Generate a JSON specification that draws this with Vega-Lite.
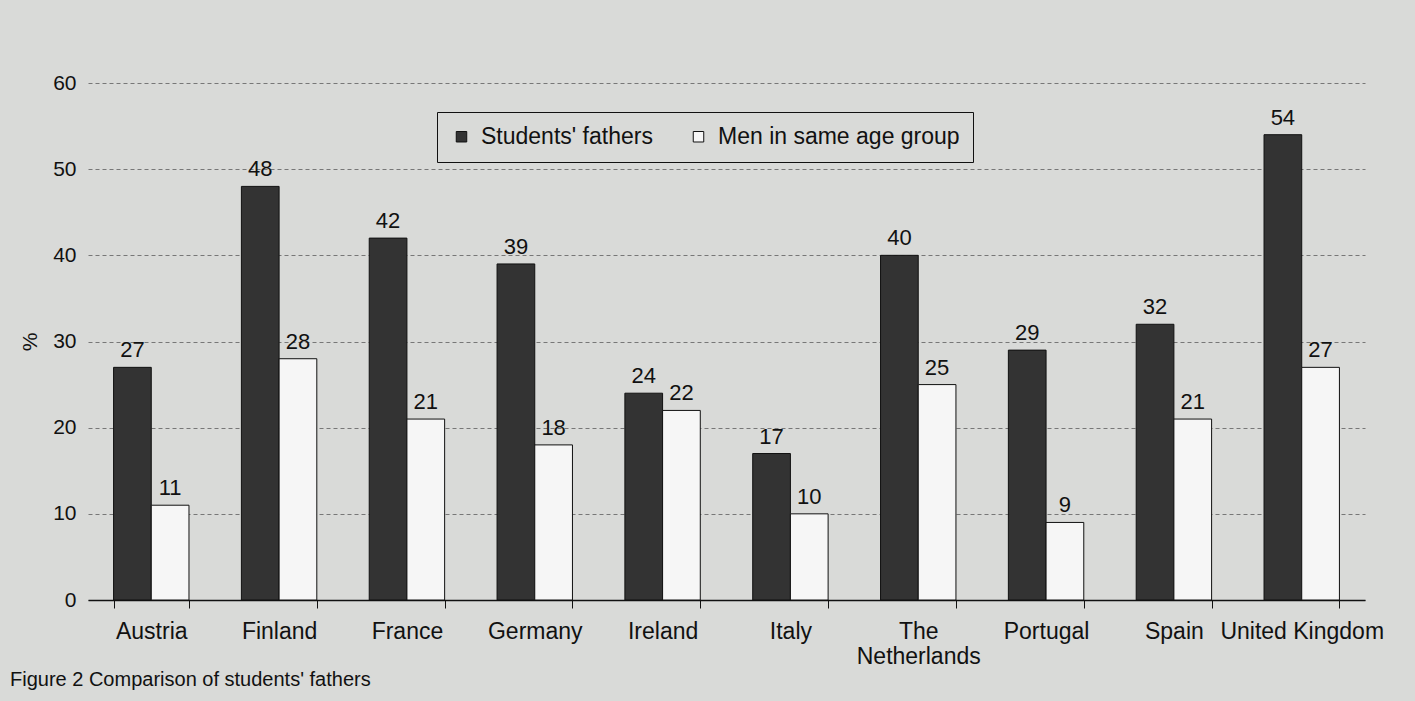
{
  "$schema": "https://vega.github.io/schema/vega-lite/v6.json",
  "autosize": "none",
  "width": 1277,
  "height": 517,
  "padding": {"left": 88, "top": 83, "right": 50, "bottom": 101},
  "background": "#d9dad8",
  "config": {"font": "Liberation Sans", "view": {"stroke": null}},
  "title": {
    "text": "Figure 2  Comparison of students' fathers",
    "orient": "bottom",
    "anchor": "start",
    "frame": "group",
    "dx": -78,
    "offset": 2,
    "fontSize": 20,
    "fontWeight": "normal",
    "color": "#111"
  },
  "data": {
    "values": [
      {"country": "Austria", "series": "Students' fathers", "value": 27},
      {"country": "Austria", "series": "Men in same age group", "value": 11},
      {"country": "Finland", "series": "Students' fathers", "value": 48},
      {"country": "Finland", "series": "Men in same age group", "value": 28},
      {"country": "France", "series": "Students' fathers", "value": 42},
      {"country": "France", "series": "Men in same age group", "value": 21},
      {"country": "Germany", "series": "Students' fathers", "value": 39},
      {"country": "Germany", "series": "Men in same age group", "value": 18},
      {"country": "Ireland", "series": "Students' fathers", "value": 24},
      {"country": "Ireland", "series": "Men in same age group", "value": 22},
      {"country": "Italy", "series": "Students' fathers", "value": 17},
      {"country": "Italy", "series": "Men in same age group", "value": 10},
      {"country": "The Netherlands", "series": "Students' fathers", "value": 40},
      {"country": "The Netherlands", "series": "Men in same age group", "value": 25},
      {"country": "Portugal", "series": "Students' fathers", "value": 29},
      {"country": "Portugal", "series": "Men in same age group", "value": 9},
      {"country": "Spain", "series": "Students' fathers", "value": 32},
      {"country": "Spain", "series": "Men in same age group", "value": 21},
      {"country": "United Kingdom", "series": "Students' fathers", "value": 54},
      {"country": "United Kingdom", "series": "Men in same age group", "value": 27}
    ]
  },
  "encoding": {
    "x": {
      "field": "country",
      "type": "nominal",
      "sort": null,
      "scale": {"paddingInner": 0.41, "paddingOuter": 0.2},
      "axis": {
        "title": null,
        "labelAngle": 0,
        "labelFontSize": 23,
        "labelColor": "#111",
        "labelPadding": 12,
        "labelExpr": "datum.value == 'The Netherlands' ? ['The', 'Netherlands'] : datum.value",
        "tickBand": "extent",
        "tickSize": 8,
        "tickColor": "#111",
        "domainColor": "#111",
        "domainWidth": 1.5
      }
    },
    "xOffset": {
      "field": "series",
      "type": "nominal",
      "sort": ["Students' fathers", "Men in same age group"],
      "scale": {"paddingInner": 0, "paddingOuter": 0}
    },
    "y": {
      "field": "value",
      "type": "quantitative",
      "scale": {"domain": [0, 60]},
      "axis": {
        "title": "%",
        "titleFontSize": 21,
        "titleFontWeight": "normal",
        "titleColor": "#111",
        "titlePadding": 12,
        "values": [0, 10, 20, 30, 40, 50, 60],
        "labelFontSize": 21,
        "labelColor": "#111",
        "labelPadding": 12,
        "ticks": false,
        "domain": false,
        "grid": true,
        "gridColor": "#777",
        "gridDash": [4, 3],
        "gridWidth": 1
      }
    }
  },
  "layer": [
    {
      "mark": {"type": "bar", "stroke": "#111", "strokeWidth": 1},
      "encoding": {
        "color": {
          "field": "series",
          "type": "nominal",
          "scale": {
            "domain": ["Students' fathers", "Men in same age group"],
            "range": ["#333333", "#f6f6f6"]
          },
          "legend": {
            "title": null,
            "orient": "none",
            "legendX": 349,
            "legendY": 29,
            "direction": "horizontal",
            "strokeColor": "#111",
            "fillColor": "#d9dad8",
            "padding": 13,
            "symbolType": "square",
            "symbolSize": 110,
            "symbolStrokeColor": "#111",
            "symbolStrokeWidth": 1,
            "labelFontSize": 23,
            "labelColor": "#111",
            "labelOffset": 8,
            "columnPadding": 34,
            "labelLimit": 400
          }
        }
      }
    },
    {
      "mark": {"type": "text", "dy": -17, "fontSize": 22, "color": "#111"},
      "encoding": {"text": {"field": "value", "type": "quantitative"}}
    }
  ]
}
